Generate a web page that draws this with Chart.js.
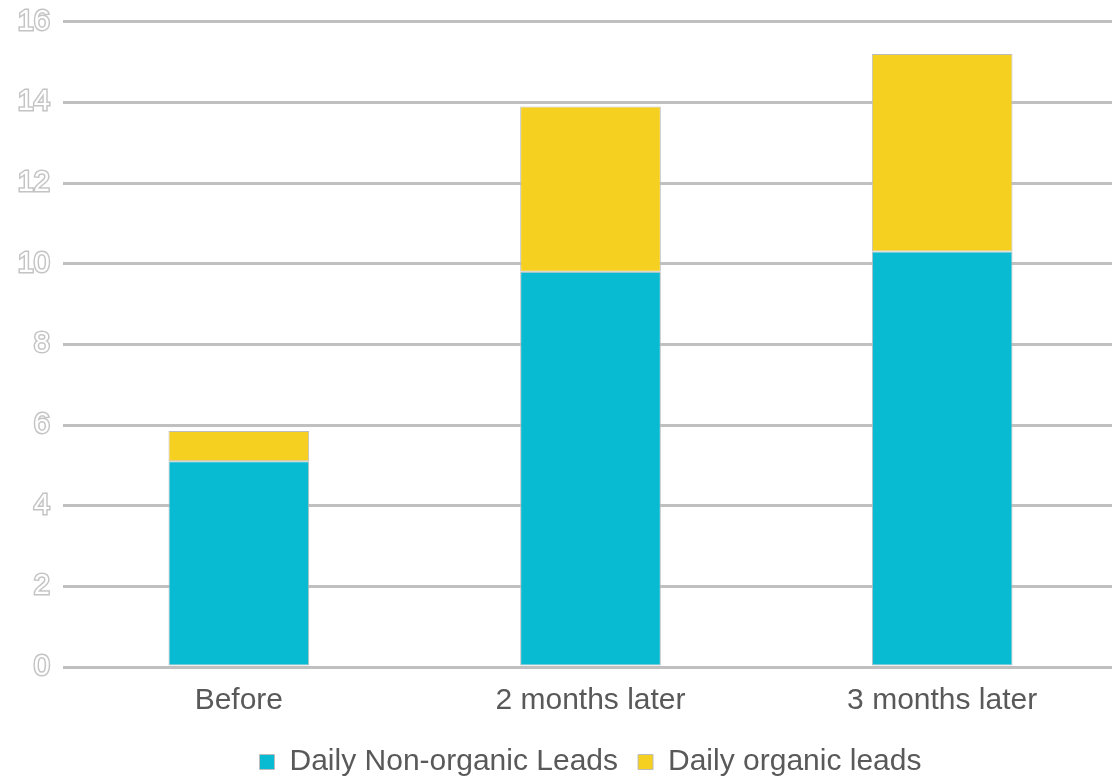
<!DOCTYPE html>
<html>
<head>
<meta charset="utf-8">
<script src="https://cdn.jsdelivr.net/npm/chart.js@4/dist/chart.umd.min.js"></script>
<style>
    html, body { margin: 0; padding: 0; background: #fff; overflow: hidden; }
    #wrap { width: 1118px; height: 779px; }
</style>
</head>
<body>
<div id="wrap"><canvas id="chartLeads"></canvas></div>
<script>
var categories = ['Before', '2 months later', '3 months later'];
var nonOrganic = [5.1, 9.8, 10.3];
var organic = [0.75, 4.1, 4.9];
var yTicks = [0, 2, 4, 6, 8, 10, 12, 14, 16];

function drawLeads() {
    var ctx = document.getElementById("chartLeads");
    var textFont = { family: "'Liberation Sans', Arial, sans-serif", size: 30 };
    var data = {
        labels: categories,
        datasets: [{
            label: 'Daily Non-organic Leads',
            data: nonOrganic,
            backgroundColor: '#08bad2',
            borderColor: '#bcbcbc',
            borderWidth: 1,
            borderSkipped: false
        }, {
            label: 'Daily organic leads',
            data: organic,
            backgroundColor: '#f5d020',
            borderColor: '#bcbcbc',
            borderWidth: 1,
            borderSkipped: false
        }]
    };
    var options = {
        responsive: true,
        maintainAspectRatio: false,
        animation: false,
        // negative bottom padding lets the legend sit lower without moving the plot
        layout: { padding: { top: 0, left: 0, right: 0, bottom: -8 } },
        datasets: { bar: { barPercentage: 0.4, categoryPercentage: 1.0 } },
        plugins: {
            tooltip: { enabled: false },
            legend: {
                position: 'bottom',
                fullSize: false,
                labels: {
                    boxWidth: 15,
                    boxHeight: 15,
                    padding: 20,
                    color: '#595959',
                    font: textFont
                }
            }
        },
        scales: {
            x: {
                stacked: true,
                grid: { display: false },
                border: { display: false },
                ticks: { color: '#595959', font: textFont, padding: 8, maxRotation: 0 }
            },
            y: {
                stacked: true,
                min: 0,
                max: 16,
                afterBuildTicks: function (scale) {
                    scale.ticks = yTicks.map(function (v) { return { value: v }; });
                },
                afterFit: function (scale) { scale.width = 63; },
                grid: { color: '#c0c0c0', lineWidth: 3, drawTicks: false },
                border: { display: false },
                ticks: {
                    color: '#ffffff',
                    textStrokeColor: '#c4c4c4',
                    textStrokeWidth: 3,
                    font: { family: "'Liberation Sans', Arial, sans-serif", size: 29, lineHeight: 0.6 },
                    padding: 13
                }
            }
        }
    };
    new Chart(ctx, { type: 'bar', data: data, options: options });
}

drawLeads();
</script>
</body>
</html>
